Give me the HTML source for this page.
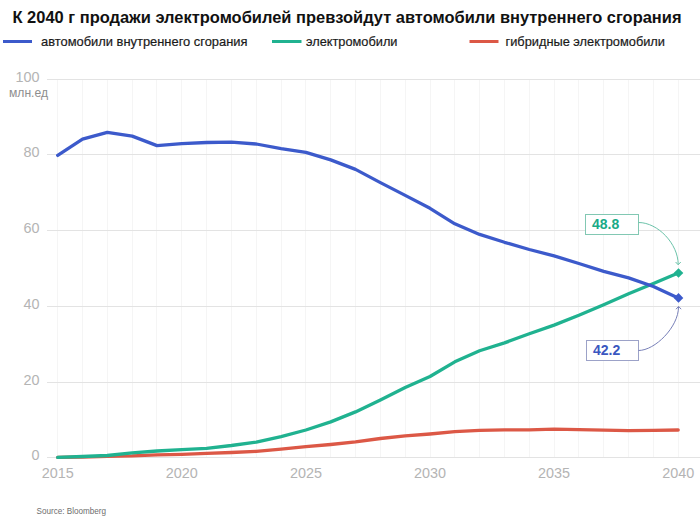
<!DOCTYPE html>
<html><head><meta charset="utf-8">
<style>
html,body{margin:0;padding:0;background:#fff;}
body{width:700px;height:527px;overflow:hidden;position:relative;}
svg{position:absolute;left:0;top:0;}
text{font-family:"Liberation Sans",sans-serif;}
.ax{font-size:14.4px;fill:#b4b4b4;}
.lg{font-size:13.4px;fill:#1a1a1a;stroke:#1a1a1a;stroke-width:0.2px;}
.tt{font-size:17px;font-weight:bold;fill:#111;}
.src{font-size:8.7px;fill:#6e6e6e;}
.ann{font-size:14px;font-weight:bold;}
</style></head><body>
<svg width="700" height="527" viewBox="0 0 700 527">
<rect width="700" height="527" fill="#fff"/>
<text x="12.5" y="23" class="tt" id="title" textLength="669" lengthAdjust="spacingAndGlyphs">К 2040 г продажи электромобилей превзойдут автомобили внутреннего сгорания</text>
<line x1="3" y1="41.5" x2="32" y2="41.5" stroke="#3c5acb" stroke-width="3"/>
<text x="41" y="45.9" class="lg" id="lg1" textLength="206.5" lengthAdjust="spacingAndGlyphs">автомобили внутреннего сгорания</text>
<line x1="272" y1="41.5" x2="301.5" y2="41.5" stroke="#20b290" stroke-width="3"/>
<text x="306" y="45.9" class="lg" id="lg2" textLength="91.5" lengthAdjust="spacingAndGlyphs">электромобили</text>
<line x1="469.5" y1="41.5" x2="498.5" y2="41.5" stroke="#dc5846" stroke-width="3"/>
<text x="505.5" y="45.9" class="lg" id="lg3" textLength="159.5" lengthAdjust="spacingAndGlyphs">гибридные электромобили</text>
<line x1="57.5" y1="79.5" x2="57.5" y2="457.5" stroke="#f5f5f5" stroke-width="1"/><line x1="82.5" y1="79.5" x2="82.5" y2="457.5" stroke="#f5f5f5" stroke-width="1"/><line x1="107.5" y1="79.5" x2="107.5" y2="457.5" stroke="#f5f5f5" stroke-width="1"/><line x1="132.5" y1="79.5" x2="132.5" y2="457.5" stroke="#f5f5f5" stroke-width="1"/><line x1="156.5" y1="79.5" x2="156.5" y2="457.5" stroke="#f5f5f5" stroke-width="1"/><line x1="181.5" y1="79.5" x2="181.5" y2="457.5" stroke="#f5f5f5" stroke-width="1"/><line x1="206.5" y1="79.5" x2="206.5" y2="457.5" stroke="#f5f5f5" stroke-width="1"/><line x1="231.5" y1="79.5" x2="231.5" y2="457.5" stroke="#f5f5f5" stroke-width="1"/><line x1="256.5" y1="79.5" x2="256.5" y2="457.5" stroke="#f5f5f5" stroke-width="1"/><line x1="281.5" y1="79.5" x2="281.5" y2="457.5" stroke="#f5f5f5" stroke-width="1"/><line x1="305.5" y1="79.5" x2="305.5" y2="457.5" stroke="#f5f5f5" stroke-width="1"/><line x1="330.5" y1="79.5" x2="330.5" y2="457.5" stroke="#f5f5f5" stroke-width="1"/><line x1="355.5" y1="79.5" x2="355.5" y2="457.5" stroke="#f5f5f5" stroke-width="1"/><line x1="380.5" y1="79.5" x2="380.5" y2="457.5" stroke="#f5f5f5" stroke-width="1"/><line x1="405.5" y1="79.5" x2="405.5" y2="457.5" stroke="#f5f5f5" stroke-width="1"/><line x1="430.5" y1="79.5" x2="430.5" y2="457.5" stroke="#f5f5f5" stroke-width="1"/><line x1="454.5" y1="79.5" x2="454.5" y2="457.5" stroke="#f5f5f5" stroke-width="1"/><line x1="479.5" y1="79.5" x2="479.5" y2="457.5" stroke="#f5f5f5" stroke-width="1"/><line x1="504.5" y1="79.5" x2="504.5" y2="457.5" stroke="#f5f5f5" stroke-width="1"/><line x1="529.5" y1="79.5" x2="529.5" y2="457.5" stroke="#f5f5f5" stroke-width="1"/><line x1="554.5" y1="79.5" x2="554.5" y2="457.5" stroke="#f5f5f5" stroke-width="1"/><line x1="578.5" y1="79.5" x2="578.5" y2="457.5" stroke="#f5f5f5" stroke-width="1"/><line x1="603.5" y1="79.5" x2="603.5" y2="457.5" stroke="#f5f5f5" stroke-width="1"/><line x1="628.5" y1="79.5" x2="628.5" y2="457.5" stroke="#f5f5f5" stroke-width="1"/><line x1="653.5" y1="79.5" x2="653.5" y2="457.5" stroke="#f5f5f5" stroke-width="1"/><line x1="678.5" y1="79.5" x2="678.5" y2="457.5" stroke="#f5f5f5" stroke-width="1"/>
<line x1="47" y1="457.5" x2="700" y2="457.5" stroke="#e3e3e3" stroke-width="1"/><line x1="47" y1="382.5" x2="700" y2="382.5" stroke="#e3e3e3" stroke-width="1"/><line x1="47" y1="306.5" x2="700" y2="306.5" stroke="#e3e3e3" stroke-width="1"/><line x1="47" y1="230.5" x2="700" y2="230.5" stroke="#e3e3e3" stroke-width="1"/><line x1="47" y1="154.5" x2="700" y2="154.5" stroke="#e3e3e3" stroke-width="1"/><line x1="47" y1="79.5" x2="700" y2="79.5" stroke="#e3e3e3" stroke-width="1"/>
<text x="39.5" y="459.7" text-anchor="end" class="ax">0</text><text x="39.5" y="384.7" text-anchor="end" class="ax">20</text><text x="39.5" y="308.7" text-anchor="end" class="ax">40</text><text x="39.5" y="232.7" text-anchor="end" class="ax">60</text><text x="39.5" y="156.7" text-anchor="end" class="ax">80</text><text x="39.5" y="81.7" text-anchor="end" class="ax">100</text>
<text x="9" y="96.6" class="ax" style="font-size:13.5px;fill:#8e8e8e" id="unit" textLength="39" lengthAdjust="spacingAndGlyphs">млн.ед</text>
<text x="57.7" y="478" text-anchor="middle" class="ax">2015</text><text x="181.8" y="478" text-anchor="middle" class="ax">2020</text><text x="305.9" y="478" text-anchor="middle" class="ax">2025</text><text x="430.0" y="478" text-anchor="middle" class="ax">2030</text><text x="554.1" y="478" text-anchor="middle" class="ax">2035</text><text x="678.2" y="478" text-anchor="middle" class="ax">2040</text>
<polyline points="57.7,457.4 82.5,457.0 107.3,456.3 132.2,455.9 157.0,454.9 181.8,454.4 206.6,453.4 231.4,452.5 256.3,451.4 281.1,449.1 305.9,446.6 330.7,444.5 355.5,441.9 380.4,438.5 405.2,435.9 430.0,434.0 454.8,431.7 479.6,430.4 504.5,429.8 529.3,429.8 554.1,429.2 578.9,429.6 603.7,430.2 628.6,430.6 653.4,430.4 678.2,430.0" fill="none" stroke="#dc5846" stroke-width="3.3" stroke-linejoin="round" stroke-linecap="round"/>
<polyline points="57.7,457.4 82.5,456.5 107.3,455.5 132.2,452.9 157.0,451.0 181.8,449.7 206.6,448.3 231.4,445.5 256.3,442.1 281.1,436.6 305.9,430.0 330.7,421.9 355.5,411.9 380.4,399.9 405.2,387.5 430.0,376.5 454.8,361.8 479.6,350.8 504.5,342.9 529.3,333.8 554.1,325.1 578.9,315.3 603.7,304.7 628.6,293.7 653.4,283.5 678.2,272.9" fill="none" stroke="#20b290" stroke-width="3.3" stroke-linejoin="round" stroke-linecap="round"/>
<polyline points="57.7,155.4 82.5,139.1 107.3,132.3 132.2,136.1 157.0,145.6 181.8,143.7 206.6,142.5 231.4,142.1 256.3,144.0 281.1,148.6 305.9,152.4 330.7,159.9 355.5,169.4 380.4,182.6 405.2,195.4 430.0,208.3 454.8,223.8 479.6,234.4 504.5,242.3 529.3,249.5 554.1,255.9 578.9,263.5 603.7,271.4 628.6,277.9 653.4,286.5 678.2,297.9" fill="none" stroke="#3c5acb" stroke-width="3.3" stroke-linejoin="round" stroke-linecap="round"/>
<path d="M673.7,272.93600000000004 L678.5,268.136 L683.3,272.93600000000004 L678.5,277.73600000000005 Z" fill="#20b290"/>
<path d="M673.7,297.884 L678.5,293.084 L683.3,297.884 L678.5,302.684 Z" fill="#3c5acb"/>
<rect x="585.5" y="214.5" width="53" height="20" fill="#fff" stroke="#82c8b3" stroke-width="1"/>
<text x="592" y="228.9" class="ann" fill="#19aa88" id="a1">48.8</text>
<path d="M638.5,222.5 C658,222.5 678.2,244 678.2,264.5" fill="none" stroke="#6cc3aa" stroke-width="1"/>
<path d="M675.6,262 L678.2,264.8 L680.8,262" fill="none" stroke="#6cc3aa" stroke-width="1"/>
<rect x="586.5" y="340.5" width="52" height="20" fill="#fff" stroke="#9ca2c8" stroke-width="1"/>
<text x="593" y="355.4" class="ann" fill="#3b57c0" id="a2">42.2</text>
<path d="M638.5,350.5 C655,350.5 678.5,327 678.5,307" fill="none" stroke="#7880b8" stroke-width="1"/>
<path d="M676,309.2 L678.6,306.4 L681.2,309.2" fill="none" stroke="#7880b8" stroke-width="1"/>
<text x="36.6" y="513.8" class="src" id="src" textLength="69.5" lengthAdjust="spacingAndGlyphs">Source: Bloomberg</text>
</svg>
</body></html>
